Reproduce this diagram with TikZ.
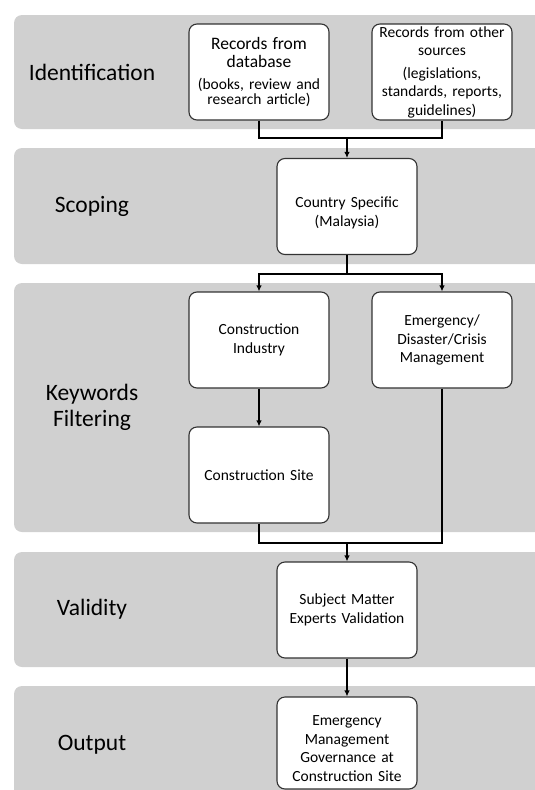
\documentclass[tikz,border=0pt]{standalone}
\usepackage{fontspec}
\setmainfont{Carlito}
\usetikzlibrary{arrows.meta}
\definecolor{bandgray}{HTML}{D0D0D0}
\definecolor{boxedge}{HTML}{333333}

\begin{document}
\begin{tikzpicture}[x=1pt, y=-1pt,
    band/.style={fill=bandgray, rounded corners=8pt},
    stage/.style={align=center, font=\fontsize{23.5}{26}\selectfont},
    box/.style={draw=boxedge, line width=1.1pt, fill=white, rounded corners=8pt,
      minimum width=140pt, minimum height=96pt, text width=132pt, inner sep=2pt,
      align=center, font=\fontsize{15.5}{18.5}\selectfont},
    link/.style={line width=2pt},
    >={Latex[length=6pt,width=5.5pt]}]
          \useasboundingbox (0,0) rectangle (535,790);
          \clip (0,0) rectangle (535,790);
          % stage bands
          \fill[band] (14,15) rectangle (560,129);
          \fill[band] (14,148) rectangle (560,264);
          \fill[band] (14,283) rectangle (560,532);
          \fill[band] (14,552) rectangle (560,667);
          \fill[band] (14,686) rectangle (560,820);
          \node[stage] (identification) at (92,72) {Identification};
          \node[stage] (scoping) at (92,206) {Scoping};
          \node[stage] (keywords) at (92,407) {Keywords\\Filtering};
          \node[stage] (validity) at (92,609) {Validity};
          \node[stage] (output) at (92,745) {Output};
          % boxes
          \node[box] (db) at (259,72) {{\fontsize{17.5}{19.5}\selectfont Records from}\\{\fontsize{17.5}{19.5}\selectfont database}\\[3.5pt]
            (books, review and\\[-3.5pt]research article)};
          \node[box] (other) at (442,72) {Records from other\\sources\\[4pt](legislations,\\standards, reports,\\guidelines)};
          \node[box] (country) at (347,206.5) {\rule{0pt}{23pt}Country Specific\\(Malaysia)};
          \node[box] (industry) at (259,340) {Construction\\Industry};
          \node[box] (emergency) at (442,340) {Emergency/\\Disaster/Crisis\\Management};
          \node[box] (site) at (259,475) {Construction Site};
          \node[box] (experts) at (347,610) {Subject Matter\\Experts Validation};
          \node[box, minimum height=92pt] (governance) at (347,743) {\rule{0pt}{21pt}Emergency\\Management\\Governance at\\Construction Site};
          % connectors
          \coordinate (j1) at (347,138);
          \coordinate (j2) at (347,274);
          \coordinate (j3) at (347,543);
          \draw[link] (db) |- (j1) -| (other);
          \draw[link, ->] (j1) -- (country);
          \draw[link] (country) -- (j2);
          \draw[link, ->] (j2) -| (industry);
          \draw[link, ->] (j2) -| (emergency);
          \draw[link, ->] (industry) -- (site);
          \draw[link] (site) |- (j3);
          \draw[link] (emergency) |- (j3);
          \draw[link, ->] (j3) -- (experts);
          \draw[link, ->] (experts) -- (governance);
         \end{tikzpicture}
\end{document}
